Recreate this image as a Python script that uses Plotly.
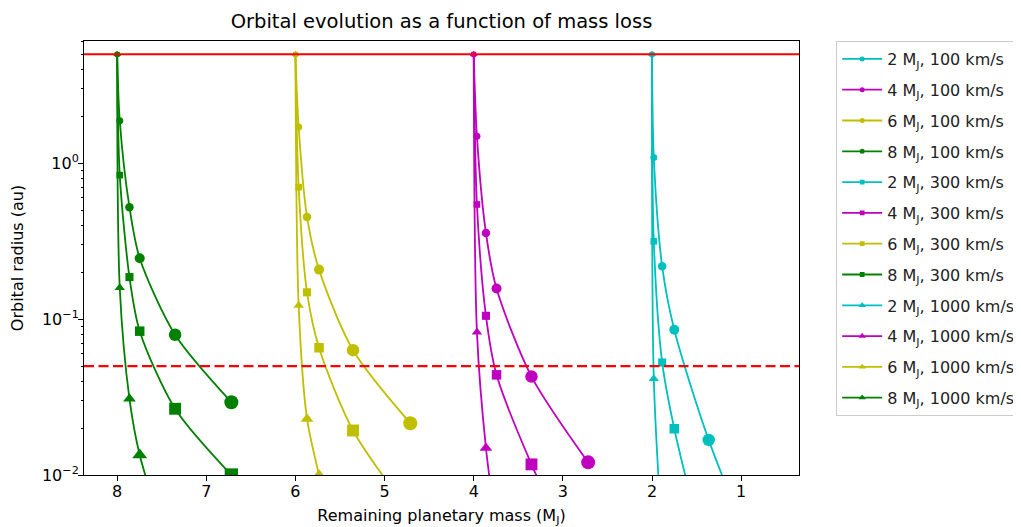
import plotly.graph_objects as go

# ---- data ----
start_radius = 5.0          # au (solid red line)
inner_radius = 0.05         # au (dashed red line)

# remaining mass at successive marker positions (M_J)
mass_2 = [2.0, 1.980, 1.886, 1.750, 1.364, 0.720]
mass_4 = [4.0, 3.964, 3.863, 3.744, 3.352, 2.716]
mass_6 = [6.0, 5.964, 5.870, 5.735, 5.354, 4.712]
mass_8 = [8.0, 7.971, 7.862, 7.747, 7.350, 6.719]

# orbital radius (au) at those masses
r_2_100 = [5.0, 1.09, 0.218, 0.0855, 0.0168, 0.0020]
r_4_100 = [5.0, 1.487, 0.357, 0.157, 0.0428, 0.01205]
r_6_100 = [5.0, 1.706, 0.452, 0.2077, 0.0632, 0.0215]
r_8_100 = [5.0, 1.873, 0.522, 0.2455, 0.0794, 0.0293]

r_2_300 = [5.0, 0.3157, 0.0527, 0.0198, 0.0025]
r_4_300 = [5.0, 0.544, 0.105, 0.0439, 0.0117, 0.0020]
r_6_300 = [5.0, 0.702, 0.1485, 0.0655, 0.0193, 0.0057]
r_8_300 = [5.0, 0.839, 0.186, 0.0837, 0.0266, 0.0100]

r_2_1000 = [5.0, 0.0414, 0.0039]
r_4_1000 = [5.0, 0.0825, 0.0149, 0.0045]
r_6_1000 = [5.0, 0.1225, 0.0229, 0.0099, 0.0009]
r_8_1000 = [5.0, 0.159, 0.0308, 0.01345, 0.0025]

masses = {2: mass_2, 4: mass_4, 6: mass_6, 8: mass_8}
radii = {
    (2, 100): r_2_100, (4, 100): r_4_100, (6, 100): r_6_100, (8, 100): r_8_100,
    (2, 300): r_2_300, (4, 300): r_4_300, (6, 300): r_6_300, (8, 300): r_8_300,
    (2, 1000): r_2_1000, (4, 1000): r_4_1000, (6, 1000): r_6_1000, (8, 1000): r_8_1000,
}
planet_masses = [2, 4, 6, 8]
velocities = [100, 300, 1000]

x_ticks = [8, 7, 6, 5, 4, 3, 2, 1]
y_ticks = [0.01, 0.1, 1]
y_ticktext = ["10<sup>\u22122</sup>", "10<sup>\u22121</sup>", "10<sup>0</sup>"]

# ---- styles ----
colors = {2: "#00BFBF", 4: "#BF00BF", 6: "#BFBF00", 8: "#008000"}
symbols = {100: "circle", 300: "square", 1000: "triangle-up"}
sym_scale = {100: 1.0, 300: 0.95, 1000: 1.3}
marker_sizes = [5, 7, 8.5, 10, 12.5, 14]
FONT = "DejaVu Sans"
FS = 16

fig = go.Figure()
for v in velocities:
    for m in planet_masses:
        r = radii[(m, v)]
        x = masses[m][:len(r)]
        name = f"{m} M<sub>J</sub>, {v} km/s"
        grp = f"g{m}_{v}"
        fig.add_trace(go.Scatter(
            x=x, y=r, mode="lines+markers", name=name, legendgroup=grp,
            line=dict(color=colors[m], width=1.8, shape="spline", smoothing=0.8),
            marker=dict(color=colors[m], size=5 * sym_scale[v], symbol=symbols[v],
                        opacity=1, line=dict(width=0)),
        ))
        fig.add_trace(go.Scatter(
            x=x, y=r, mode="markers", showlegend=False, legendgroup=grp,
            marker=dict(color=colors[m], symbol=symbols[v], opacity=1,
                        line=dict(width=0),
                        size=[s * sym_scale[v] for s in marker_sizes[:len(r)]]),
            hoverinfo="skip",
        ))

fig.add_shape(type="line", xref="paper", x0=0, x1=1, yref="y",
              y0=start_radius, y1=start_radius,
              line=dict(color="#FF0000", width=2.2))
fig.add_shape(type="line", xref="paper", x0=0, x1=1, yref="y",
              y0=inner_radius, y1=inner_radius,
              line=dict(color="#FF0000", width=2.2, dash="10px,4.5px"))

axis_common = dict(showgrid=False, zeroline=False, showline=True, mirror=True,
                   linecolor="black", linewidth=1, ticks="outside", ticklen=5,
                   tickwidth=1, tickcolor="black", automargin=False,
                   tickfont=dict(family=FONT, size=FS, color="black"))

fig.update_xaxes(range=[8.372, 0.351], tickvals=x_ticks,
                 ticktext=[str(t) for t in x_ticks], ticklabelstandoff=-3,
                 title=dict(text="Remaining planetary mass (M<sub>J</sub>)",
                            font=dict(family=FONT, size=FS, color="black"),
                            standoff=12),
                 **axis_common)
fig.update_yaxes(type="log", range=[-2, 0.784], tickvals=y_ticks,
                 ticktext=y_ticktext, ticklabelstandoff=-4,
                 minor=dict(ticks="outside", ticklen=2.5, tickcolor="black",
                            tickvals=[0.02, 0.03, 0.04, 0.05, 0.06, 0.07, 0.08, 0.09,
                                      0.2, 0.3, 0.4, 0.5, 0.6, 0.7, 0.8, 0.9,
                                      2, 3, 4, 5, 6]),
                 title=dict(text="Orbital radius (au)",
                            font=dict(family=FONT, size=FS, color="black"),
                            standoff=14),
                 **axis_common)

# page body has an 8px margin: shift the figure so the plot area lands where the reference has it
fig.update_layout(
    width=1013, height=519,
    margin=dict(l=76, r=222, t=33, b=52, autoexpand=False),
    paper_bgcolor="white", plot_bgcolor="white",
    font=dict(family=FONT, size=FS, color="black"),
    title=dict(text="Orbital evolution as a function of mass loss",
               x=0.5, xref="paper", xanchor="center",
               y=1 - 13 / 519, yref="container", yanchor="middle",
               font=dict(family=FONT, size=19.5, color="black")),
    legend=dict(x=1.052, y=1.0, xanchor="left", yanchor="top",
                bordercolor="#CCCCCC", borderwidth=1, bgcolor="white",
                font=dict(family=FONT, size=FS, color="#222222"),
                tracegroupgap=7, itemwidth=40),
    showlegend=True,
)

fig.write_html("out.html")
